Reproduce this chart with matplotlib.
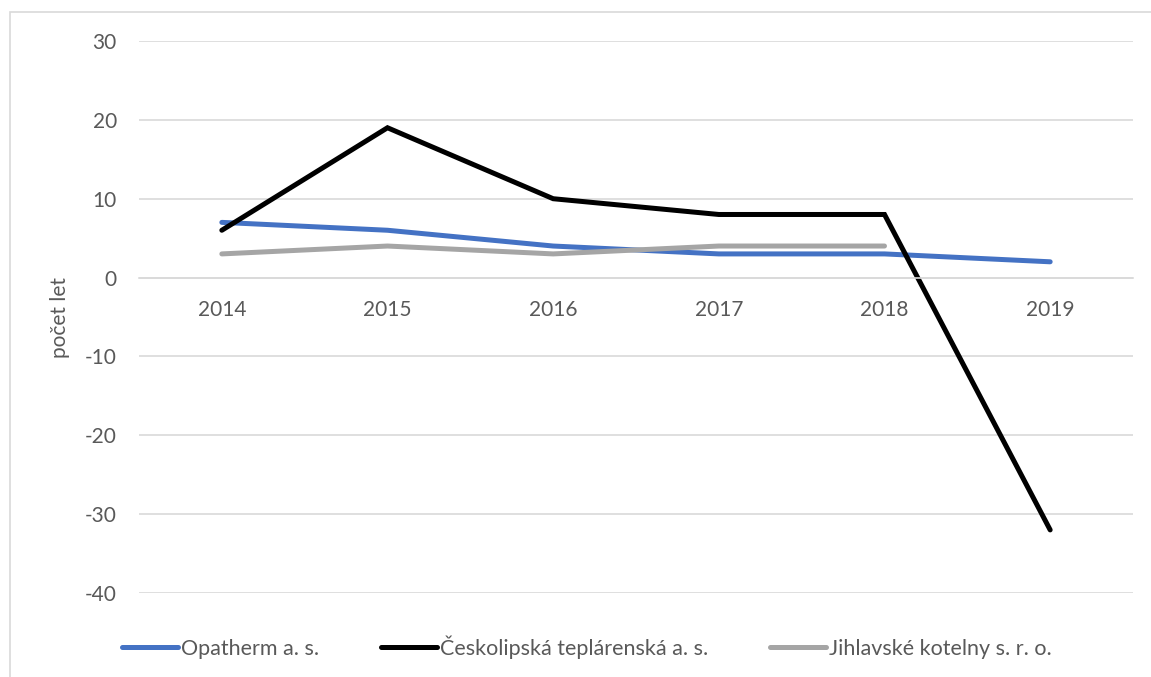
import matplotlib.pyplot as plt
from matplotlib.patches import Rectangle
import numpy as np

plt.rcParams['font.family'] = ['Lato', 'DejaVu Sans']
plt.rcParams['axes.unicode_minus'] = False

years = ['2014', '2015', '2016', '2017', '2018', '2019']
opatherm = [7, 6, 4, 3, 3, 2]
ceskolipska = [6, 19, 10, 8, 8, -32]
jihlavske = [3, 4, 3, 4, 4, np.nan]

names = ['Opatherm a. s.', 'Českolipská teplárenská a. s.', 'Jihlavské kotelny s. r. o.']
colors = ['#4472C4', '#000000', '#A5A5A5']

txt = '#595959'
grid = '#d9d9d9'

fig = plt.figure(figsize=(11.51, 6.77), dpi=100)
ax = fig.add_axes([139 / 1151, 1 - 593 / 677, (1133 - 139) / 1151, (593 - 41) / 677])

x = np.arange(len(years))
for vals, name, c in zip([opatherm, ceskolipska, jihlavske], names, colors):
    ax.plot(x, vals, color=c, lw=3.6, label=name, solid_capstyle='round', solid_joinstyle='miter')

ax.set_xlim(-0.5, 5.5)
ax.set_ylim(-40, 30)
ax.set_yticks(range(-40, 31, 10))
ax.set_xticks(x)
ax.set_xticklabels(years)
ax.grid(axis='y', color=grid, lw=1.2)
ax.set_axisbelow(True)
for s in ['top', 'right', 'left']:
    ax.spines[s].set_visible(False)
ax.spines['bottom'].set_position(('data', 0))
ax.spines['bottom'].set_color(grid)
ax.spines['bottom'].set_linewidth(1.2)
ax.tick_params(axis='both', length=0, labelsize=15, labelcolor=txt)
ax.tick_params(axis='y', pad=16)
ax.tick_params(axis='x', pad=16)
ax.set_ylabel('počet let', fontsize=15, color=txt, va='center')
ax.yaxis.set_label_coords((60 - 139) / 994, 0.5)

fig.legend(loc='center', bbox_to_anchor=(587 / 1151, 1 - 647 / 677), ncol=3, frameon=False,
           fontsize=15.5, labelcolor=txt, handlelength=2.6, handletextpad=0.15, columnspacing=2.85)

fig.patches.append(Rectangle((10 / 1151, -0.01), 1.1, 1 - 12 / 677 + 0.01, transform=fig.transFigure,
                             fill=False, edgecolor=grid, lw=1.2))

fig.savefig('out.png', dpi=100)
